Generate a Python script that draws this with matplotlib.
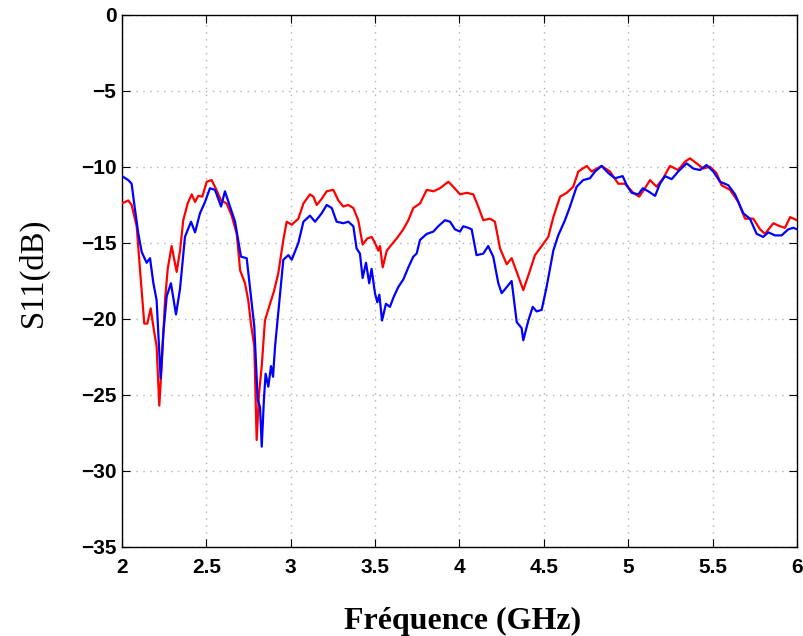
import matplotlib
matplotlib.use("Agg")
import matplotlib.pyplot as plt

red_x = [2.0, 2.037, 2.057, 2.087, 2.107, 2.132, 2.15, 2.17, 2.19, 2.205, 2.221, 2.235, 2.255, 2.271,
         2.294, 2.324, 2.344, 2.363, 2.389, 2.413, 2.433, 2.452, 2.476, 2.502, 2.531, 2.551, 2.587, 2.62,
         2.65, 2.68, 2.7, 2.729, 2.748, 2.764, 2.784, 2.798, 2.812, 2.828, 2.847, 2.877, 2.9, 2.926, 2.956,
         2.976, 3.006, 3.045, 3.075, 3.114, 3.134, 3.154, 3.183, 3.213, 3.252, 3.282, 3.311, 3.341, 3.371,
         3.4, 3.426, 3.454, 3.48, 3.499, 3.519, 3.529, 3.545, 3.569, 3.598, 3.628, 3.667, 3.697, 3.726,
         3.766, 3.806, 3.845, 3.884, 3.934, 3.963, 4.003, 4.043, 4.082, 4.111, 4.141, 4.181, 4.21, 4.24,
         4.28, 4.309, 4.339, 4.378, 4.418, 4.447, 4.487, 4.526, 4.556, 4.596, 4.635, 4.674, 4.704, 4.754,
         4.783, 4.842, 4.892, 4.941, 4.98, 5.03, 5.065, 5.099, 5.129, 5.168, 5.207, 5.247, 5.296, 5.336,
         5.366, 5.405, 5.444, 5.484, 5.523, 5.553, 5.603, 5.652, 5.692, 5.741, 5.781, 5.81, 5.86, 5.899,
         5.929, 5.959, 6.0]
red_y = [-12.4, -12.2, -12.5, -13.9, -16.8, -20.3, -20.3, -19.3, -20.8, -21.8, -25.7, -23.1, -18.75, -16.7,
         -15.2, -16.9, -15.5, -13.5, -12.4, -11.8, -12.3, -11.9, -11.95, -10.97, -10.86, -11.3, -12.2, -12.4,
         -13.2, -14.4, -16.8, -17.65, -18.75, -20.3, -21.8, -27.96, -24.9, -23.1, -20.1, -19.0, -18.2, -17.0, -14.8,
         -13.6, -13.8, -13.4, -12.4, -11.8, -11.95, -12.5, -12.1, -11.6, -11.5, -12.2, -12.6, -12.5, -12.7,
         -13.5, -15.1, -14.7, -14.6, -15.0, -15.5, -15.2, -16.6, -15.5, -15.1, -14.7, -14.1, -13.5, -12.7,
         -12.4, -11.5, -11.6, -11.4, -10.97, -11.3, -11.8, -11.7, -11.8, -12.6, -13.5, -13.4, -13.6, -15.35,
         -16.4, -16.0, -16.9, -18.1, -16.8, -15.8, -15.2, -14.6, -13.3, -11.95, -11.7, -11.3, -10.3, -9.93,
         -10.3, -9.93, -10.3, -11.1, -11.1, -11.7, -11.95, -11.4, -10.86, -11.3, -10.74, -9.93, -10.2, -9.65,
         -9.43, -9.76, -10.1, -9.98, -10.4, -11.2, -11.5, -12.3, -13.4, -13.4, -14.1, -14.4, -13.7, -13.9,
         -14.0, -13.3, -13.5]

blue_x = [2.0, 2.037, 2.057, 2.077, 2.097, 2.117, 2.146, 2.166, 2.186, 2.205, 2.229, 2.245, 2.265, 2.29,
          2.32, 2.344, 2.373, 2.409, 2.433, 2.462, 2.492, 2.521, 2.551, 2.587, 2.61, 2.64, 2.67, 2.705,
          2.739, 2.758, 2.784, 2.804, 2.818, 2.828, 2.841, 2.851, 2.867, 2.883, 2.895, 2.907, 2.926, 2.956,
          2.986, 3.006, 3.045, 3.075, 3.114, 3.144, 3.183, 3.213, 3.243, 3.272, 3.311, 3.341, 3.371, 3.39,
          3.41, 3.426, 3.446, 3.465, 3.479, 3.499, 3.513, 3.525, 3.541, 3.564, 3.588, 3.608, 3.637, 3.667,
          3.697, 3.726, 3.746, 3.766, 3.806, 3.845, 3.874, 3.914, 3.944, 3.973, 4.003, 4.022, 4.052, 4.072,
          4.101, 4.141, 4.17, 4.2, 4.23, 4.25, 4.28, 4.309, 4.339, 4.368, 4.378, 4.408, 4.434, 4.457, 4.487,
          4.516, 4.556, 4.585, 4.625, 4.655, 4.694, 4.733, 4.773, 4.803, 4.842, 4.882, 4.921, 4.967, 4.991,
          5.02, 5.06, 5.086, 5.119, 5.159, 5.188, 5.218, 5.257, 5.296, 5.346, 5.385, 5.425, 5.464, 5.504,
          5.544, 5.593, 5.633, 5.682, 5.721, 5.761, 5.8, 5.83, 5.87, 5.909, 5.948, 5.978, 6.0]
blue_y = [-10.6, -10.86, -11.1, -12.8, -14.4, -15.6, -16.3, -16.0, -17.65, -18.75, -23.9, -20.9, -18.5, -17.65,
          -19.7, -18.0, -14.6, -13.6, -14.3, -13.05, -12.3, -11.4, -11.5, -12.6, -11.6, -12.6, -13.6, -15.9,
          -16.0, -17.9, -20.5, -25.3, -25.8, -28.4, -25.3, -23.6, -24.45, -23.1, -23.8, -21.8, -19.6, -16.1,
          -15.8, -16.1, -15.0, -13.6, -13.2, -13.6, -13.05, -12.5, -12.7, -13.6, -13.7, -13.6, -13.9, -15.35,
          -15.7, -17.3, -16.3, -17.65, -16.7, -18.3, -18.9, -18.4, -20.1, -19.0, -19.2, -18.6, -17.9, -17.4,
          -16.6, -15.9, -15.7, -14.8, -14.4, -14.25, -13.9, -13.5, -13.6, -14.1, -14.25, -13.9, -14.0, -14.1,
          -15.8, -15.7, -15.2, -15.9, -17.65, -18.3, -17.9, -17.5, -20.2, -20.6, -21.4, -20.1, -19.2, -19.5, -19.4,
          -17.9, -15.5, -14.5, -13.5, -12.6, -11.3, -10.86, -10.74, -10.3, -9.93, -10.4, -10.74, -10.6, -11.2,
          -11.7, -11.8, -11.4, -11.6, -11.9, -11.1, -10.6, -10.8, -10.3, -9.76, -10.1, -10.2, -9.87, -10.3,
          -10.97, -11.2, -11.8, -13.05, -13.4, -14.4, -14.6, -14.3, -14.5, -14.5, -14.1, -14.0, -14.1]

x_ticks = [2, 2.5, 3, 3.5, 4, 4.5, 5, 5.5, 6]
x_ticklabels = ["2", "2.5", "3", "3.5", "4", "4.5", "5", "5.5", "6"]
y_ticks = [-35, -30, -25, -20, -15, -10, -5, 0]
y_ticklabels = ["\u221235", "\u221230", "\u221225", "\u221220", "\u221215", "\u221210", "\u22125", "0"]

fig = plt.figure(figsize=(8.04, 6.36), dpi=100)
ax = fig.add_axes([122/804, 89/636, 675/804, 532/636])

ax.plot(red_x, red_y, color="#ff0000", lw=1.6, zorder=3)
ax.plot(blue_x, blue_y, color="#0000ff", lw=1.6, zorder=4)

ax.set_xlim(2, 6)
ax.set_ylim(-35, 0)
ax.set_xticks(x_ticks)
ax.set_yticks(y_ticks)
tick_font = dict(family=["Liberation Sans Narrow", "Liberation Sans", "DejaVu Sans"], weight="bold", size=15)
ax.set_xticklabels(x_ticklabels, fontdict=tick_font)
ax.set_yticklabels(y_ticklabels, fontdict=tick_font)
ax.tick_params(direction="in", top=True, right=True, length=6, width=0.8)
ax.tick_params(axis="x", pad=8)
ax.tick_params(axis="y", pad=4)
ax.grid(True, color="#b0b0b0", linestyle=(0, (1, 4)), linewidth=1.0)
for s in ax.spines.values():
    s.set_linewidth(1.0)

fig.text(463/804, 1 - 629/636, "Fr\u00e9quence (GHz)", ha="center", va="baseline",
         family=["Liberation Serif", "DejaVu Serif"], weight="bold", size=23)
fig.text(33/804, 1 - 272/636, "S11(dB)", ha="center", va="center", rotation=90,
         family=["Liberation Serif", "DejaVu Serif"], size=23.5)

fig.savefig("out.png", dpi=100)
